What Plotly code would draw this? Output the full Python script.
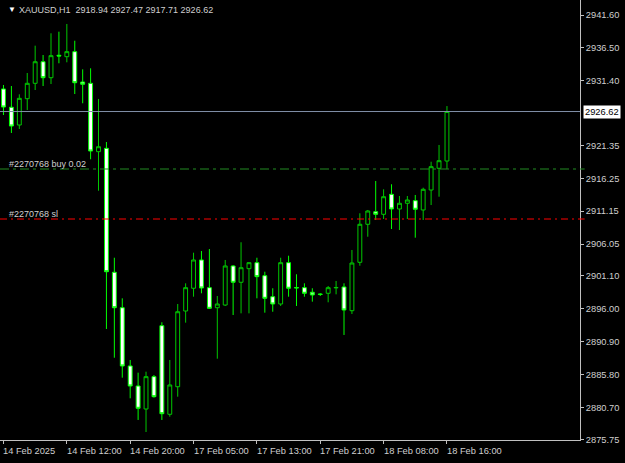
import plotly.graph_objects as go

# ---- data (XAUUSD H1) ----
bar_index = list(range(57))
opens = [2930.12, 2927.28, 2924.53, 2928.61, 2931.00, 2934.35, 2931.87, 2935.35, 2935.13, 2935.91,
         2931.20, 2931.00, 2920.39, 2920.91, 2901.67, 2896.17, 2887.13, 2884.02, 2880.45, 2885.47,
         2893.38, 2879.63, 2883.91, 2895.66, 2899.19, 2903.58, 2899.28, 2896.17, 2896.59, 2902.65,
         2900.12, 2902.23, 2903.16, 2901.14, 2897.88, 2896.75, 2903.16, 2899.31, 2899.28, 2898.57,
         2898.29, 2898.41, 2899.25, 2899.39, 2895.71, 2903.22, 2909.12, 2911.07, 2910.67, 2913.77,
         2911.49, 2912.38, 2912.78, 2911.34, 2914.44, 2917.81, 2918.94]
highs = [2930.74, 2930.58, 2929.29, 2932.60, 2936.84, 2935.39, 2938.76, 2939.01, 2940.21, 2937.61,
         2933.17, 2933.33, 2928.57, 2921.89, 2903.93, 2897.63, 2888.06, 2886.09, 2886.24, 2885.73,
         2893.91, 2888.06, 2896.75, 2899.96, 2904.71, 2904.97, 2905.28, 2897.99, 2903.58, 2902.80,
         2906.33, 2903.22, 2903.93, 2901.76, 2899.19, 2903.93, 2904.24, 2901.36, 2899.96, 2899.19,
         2898.41, 2899.54, 2900.32, 2899.96, 2905.13, 2910.83, 2911.34, 2915.84, 2914.55, 2915.33,
         2913.51, 2913.51, 2913.67, 2914.80, 2918.83, 2921.43, 2927.47]
lows = [2926.08, 2923.29, 2923.91, 2926.86, 2929.96, 2930.58, 2930.89, 2934.11, 2934.26, 2929.34,
        2927.90, 2919.21, 2914.33, 2892.87, 2888.41, 2885.31, 2882.11, 2878.75, 2876.88, 2882.21,
        2878.75, 2879.26, 2882.36, 2893.85, 2897.88, 2898.41, 2895.97, 2888.26, 2896.44, 2895.04,
        2895.30, 2895.30, 2897.63, 2895.40, 2895.55, 2896.44, 2897.88, 2896.44, 2897.88, 2897.11,
        2897.99, 2897.01, 2898.25, 2891.94, 2895.20, 2902.69, 2907.19, 2909.79, 2909.94, 2908.39,
        2908.23, 2909.94, 2907.04, 2909.79, 2912.11, 2913.40, 2917.71]
closes = [2927.32, 2924.37, 2928.67, 2931.00, 2934.35, 2931.87, 2935.29, 2935.24, 2935.91, 2931.09,
          2930.85, 2920.49, 2921.16, 2901.76, 2896.17, 2887.13, 2884.02, 2880.56, 2885.47, 2882.36,
          2879.72, 2884.18, 2895.55, 2899.28, 2903.58, 2899.23, 2896.08, 2896.75, 2902.65, 2900.12,
          2902.38, 2903.16, 2900.99, 2897.63, 2896.75, 2903.16, 2899.19, 2899.25, 2898.41, 2898.15,
          2898.24, 2899.28, 2899.31, 2895.82, 2903.11, 2909.12, 2911.18, 2910.67, 2913.40, 2911.49,
          2912.38, 2912.89, 2911.45, 2914.55, 2918.06, 2918.99, 2926.62]

time_tick_index = [0, 8, 16, 24, 32, 40, 48, 56]
time_tick_labels = ["14 Feb 2025", "14 Feb 12:00", "14 Feb 20:00", "17 Feb 05:00",
                    "17 Feb 13:00", "17 Feb 21:00", "18 Feb 08:00", "18 Feb 16:00"]
price_ticks = [2941.60, 2936.50, 2931.40, 2921.35, 2916.25, 2911.15, 2906.05,
               2901.10, 2896.00, 2890.90, 2885.80, 2880.70, 2875.75]

symbol = "XAUUSD,H1"
bid_price = 2926.62
order_price = 2917.70
sl_price = 2909.94
order_label = "#2270768 buy 0.02"
sl_label = "#2270768 sl"

FONT = "Liberation Sans"
TXT = "#cfcfcf"
FS = 9.3

fig = go.Figure()
fig.add_trace(go.Candlestick(
    x=bar_index, open=opens, high=highs, low=lows, close=closes,
    increasing=dict(line=dict(color="#00c800", width=1), fillcolor="#000000"),
    decreasing=dict(line=dict(color="#00ff00", width=1), fillcolor="#ffffff"),
    whiskerwidth=0, showlegend=False, hoverinfo="skip",
))

shapes = [
    dict(type="line", xref="paper", x0=0, x1=1, yref="y", y0=bid_price, y1=bid_price,
         line=dict(color="#8090a8", width=1)),
    dict(type="line", xref="paper", x0=0, x1=1, yref="y", y0=order_price, y1=order_price,
         line=dict(color="#228b22", width=1, dash="9px,4px,3px,4px")),
    dict(type="line", xref="paper", x0=0, x1=1, yref="y", y0=sl_price, y1=sl_price,
         line=dict(color="#ff0000", width=1, dash="7px,4px,2px,4px")),
    dict(type="line", xref="paper", x0=1, x1=1.008, yref="y", y0=order_price, y1=order_price,
         line=dict(color="#228b22", width=1)),
    dict(type="line", xref="paper", x0=1, x1=1.008, yref="y", y0=sl_price, y1=sl_price,
         line=dict(color="#ff0000", width=1)),
]

annotations = [
    dict(xref="paper", yref="paper", x=0.010, y=0.978, xanchor="left", yanchor="middle",
         text="\u25BC", showarrow=False, font=dict(family=FONT, size=8, color="#ffffff")),
    dict(xref="paper", yref="paper", x=0.029, y=0.978, xanchor="left", yanchor="middle",
         text=f"{symbol}\u00a0\u00a0{opens[-1]:.2f} {highs[-1]:.2f} {lows[-1]:.2f} {closes[-1]:.2f}",
         showarrow=False, font=dict(family=FONT, size=9, color=TXT)),
    dict(xref="paper", yref="y", x=0.012, y=order_price, xanchor="left", yanchor="bottom",
         yshift=-2, text=order_label, showarrow=False, font=dict(family=FONT, size=9, color=TXT)),
    dict(xref="paper", yref="y", x=0.012, y=sl_price, xanchor="left", yanchor="bottom",
         yshift=-2, text=sl_label, showarrow=False, font=dict(family=FONT, size=9, color=TXT)),
    dict(xref="paper", yref="y", x=1, y=bid_price, xanchor="left", yanchor="middle", xshift=3,
         text=f"{bid_price:.2f}", showarrow=False, bgcolor="#ffffff", borderpad=1,
         font=dict(family=FONT, size=FS, color="#000000")),
]
# left-aligned time labels starting at their tick, as in the terminal
for ti, tl in zip(time_tick_index, time_tick_labels):
    annotations.append(dict(xref="x", yref="paper", x=ti, y=0, xanchor="left", yanchor="top",
                            xshift=-2, yshift=-4, text=tl, showarrow=False,
                            font=dict(family=FONT, size=FS, color=TXT)))

fig.update_layout(
    width=625, height=463,
    margin=dict(l=0, r=45, t=0, b=23),
    paper_bgcolor="#000000", plot_bgcolor="#000000",
    shapes=shapes, annotations=annotations,
    xaxis=dict(range=[-0.44, 72.8], rangeslider=dict(visible=False), showgrid=False,
               zeroline=False, tickmode="array", tickvals=time_tick_index,
               showticklabels=False, automargin=False,
               ticks="outside", ticklen=3, tickcolor="#c0c0c0",
               showline=True, linecolor="#c0c0c0", linewidth=1),
    yaxis=dict(range=[2875.64, 2943.93], side="right", showgrid=False, zeroline=False,
               tickmode="array", tickvals=price_ticks, automargin=False,
               ticktext=[f"{v:.2f}" for v in price_ticks],
               ticks="outside", ticklen=3, tickcolor="#c0c0c0",
               showline=True, linecolor="#c0c0c0", linewidth=1,
               tickfont=dict(family=FONT, size=FS, color=TXT)),
)

fig.write_html("out.html", config={"displayModeBar": False},
               post_script="document.body.style.margin='0';document.body.style.background='#000';")
